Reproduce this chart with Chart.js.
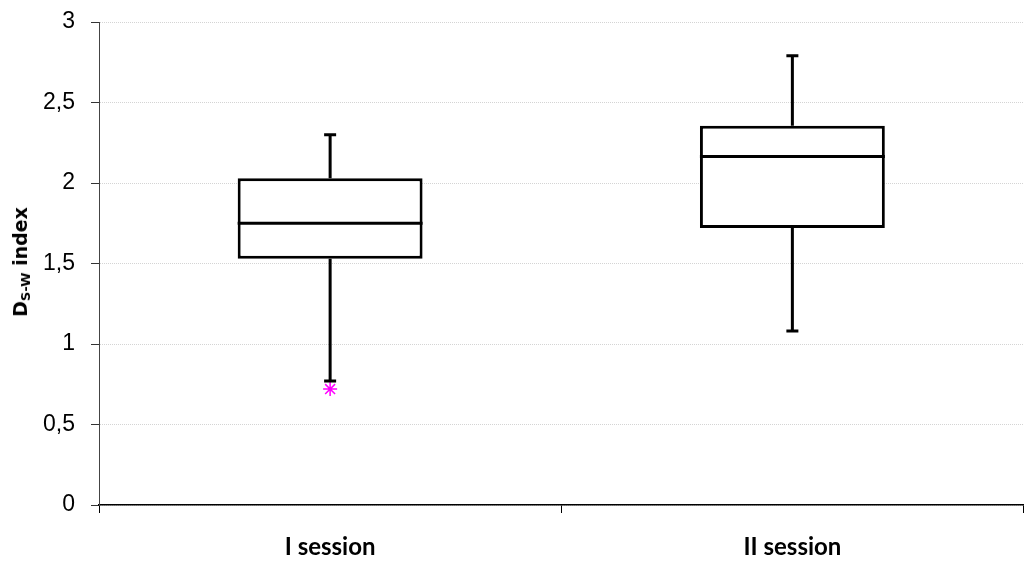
<!DOCTYPE html>
<html>
<head>
<meta charset="utf-8">
<script src="https://cdn.jsdelivr.net/npm/chart.js@4"></script>
<style>
  html, body { margin: 0; padding: 0; background: #fff; overflow: hidden; }
  #wrap { position: relative; width: 1032px; height: 563px; }
  #ytitle {
    position: absolute; left: 21px; top: 262px;
    transform: translate(-50%, -50%) rotate(-90deg);
    font: bold 19px "DejaVu Sans", sans-serif; color: #000; white-space: nowrap;
  }
  #ytitle sub { font-size: 13px; vertical-align: -3px; }
</style>
</head>
<body>
<div id="wrap">
  <canvas id="box_chart"></canvas>
  <div id="ytitle">D<sub>S-W</sub> index</div>
</div>
<script>
const categories = ['I session', 'II session'];
const q1 = [1.53, 1.72];
const medians = [1.75, 2.165];
const q3 = [2.03, 2.355];
const mins = [0.77, 1.08];
const maxs = [2.30, 2.79];
const outliers = [0.72, null];

// medians and whiskers drawn on top of the floating bars
const whiskers = {
    id: 'whiskers',
    afterDatasetsDraw(chart) {
        const ctx = chart.ctx;
        const y = chart.scales.y;
        const meta = chart.getDatasetMeta(0);
        ctx.save();
        ctx.strokeStyle = '#000';
        ctx.lineWidth = 3;
        meta.data.forEach((bar, i) => {
            const half = bar.width / 2;
            const cap = 6;
            const yMed = y.getPixelForValue(medians[i]);
            const yQ1 = y.getPixelForValue(q1[i]);
            const yQ3 = y.getPixelForValue(q3[i]);
            const yMin = y.getPixelForValue(mins[i]);
            const yMax = y.getPixelForValue(maxs[i]);
            ctx.beginPath();
            ctx.moveTo(bar.x - half, yMed);
            ctx.lineTo(bar.x + half, yMed);
            ctx.moveTo(bar.x, yQ3);
            ctx.lineTo(bar.x, yMax);
            ctx.moveTo(bar.x - cap, yMax);
            ctx.lineTo(bar.x + cap, yMax);
            ctx.moveTo(bar.x, yQ1);
            ctx.lineTo(bar.x, yMin);
            ctx.moveTo(bar.x - cap, yMin);
            ctx.lineTo(bar.x + cap, yMin);
            ctx.stroke();
        });
        ctx.restore();
    }
};

const data = {
    labels: categories,
    datasets: [{
        type: 'bar',
        data: q1.map((v, i) => [v, q3[i]]),
        backgroundColor: '#fff',
        borderColor: '#000',
        borderWidth: 3,
        borderSkipped: false,
        categoryPercentage: 1,
        barPercentage: 0.4
    }, {
        type: 'line',
        data: outliers,
        showLine: false,
        pointStyle: 'star',
        pointRadius: 7,
        borderColor: '#ff00ff',
        borderWidth: 1.5
    }]
};

const config = {
    type: 'bar',
    data: data,
    plugins: [whiskers],
    options: {
        responsive: true,
        maintainAspectRatio: false,
        animation: false,
        layout: { padding: { top: 22, right: 0, bottom: 0, left: 0 } },
        plugins: {
            legend: { display: false },
            tooltip: { enabled: false }
        },
        scales: {
            x: {
                offset: true,
                afterFit: (s) => {
                    s.height = 58;
                    s.paddingLeft = 0;
                    s.paddingRight = 0;
                },
                grid: {
                    offset: true,
                    drawOnChartArea: false,
                    tickLength: 8,
                    tickColor: '#000'
                },
                border: { color: '#000', width: 1.5 },
                ticks: {
                    padding: 20,
                    color: '#000',
                    font: { family: 'Lato', weight: 'bold', size: 24 }
                }
            },
            y: {
                min: 0,
                max: 3,
                afterFit: (s) => {
                    s.width = 99;
                    s.paddingTop = 0;
                    s.paddingBottom = 0;
                },
                grid: {
                    color: '#d4d4d4',
                    tickColor: '#333',
                    tickLength: 8
                },
                border: { color: '#444', width: 1, dash: [1, 1] },
                ticks: {
                    stepSize: 0.5,
                    padding: 16,
                    color: '#000',
                    font: { family: 'Liberation Sans', size: 23 },
                    callback: (v) => String(v).replace('.', ',')
                }
            }
        }
    }
};

const box_chart = new Chart(document.getElementById('box_chart'), config);
</script>
</body>
</html>
